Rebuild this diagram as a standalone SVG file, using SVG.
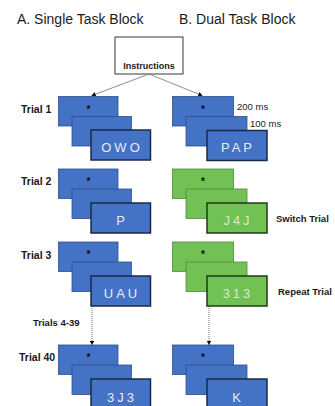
<svg xmlns="http://www.w3.org/2000/svg" width="335" height="406" viewBox="0 0 335 406">
<defs>
<style>
.title{font-family:"Liberation Sans",Arial,sans-serif;font-size:14px;fill:#1a1a1a}
.lbl{font-family:"Liberation Sans",Arial,sans-serif;font-size:10.5px;font-weight:bold;fill:#1a1a1a}
.lbl2{font-family:"Liberation Sans",Arial,sans-serif;font-size:9.5px;font-weight:bold;fill:#1a1a1a}
.ms{font-family:"Liberation Sans",Arial,sans-serif;font-size:9.5px;fill:#1a1a1a}
.b{fill:#4472C4;stroke:#2F4F8A;stroke-width:0.8}
.bf{fill:#4472C4;stroke:#1B2A47;stroke-width:1.5}
.g{fill:#72C154;stroke:#4F8A3A;stroke-width:0.8}
.gf{fill:#72C154;stroke:#22381A;stroke-width:1.5}
.star{font-family:"Liberation Sans",Arial,sans-serif;font-size:10px;font-weight:bold;fill:#111;text-anchor:middle}
.ft{font-family:"Liberation Sans",Arial,sans-serif;font-size:13px;fill:#E6ECF7;text-anchor:middle;letter-spacing:3px}
.gt{font-family:"Liberation Sans",Arial,sans-serif;font-size:13px;fill:#D5EBCB;text-anchor:middle;letter-spacing:3px}
.con{stroke:#8A7F76;stroke-width:0.9;fill:none}
.dot{stroke:#555;stroke-width:0.9;fill:none;stroke-dasharray:1 1}
</style>
<marker id="ah" viewBox="0 0 6 6" refX="5" refY="3" markerWidth="5" markerHeight="5" orient="auto"><path d="M0,0 L6,3 L0,6 z" fill="#111"/></marker>
</defs>
<rect width="335" height="406" fill="#fff"/>
<text class="title" x="17" y="24">A. Single Task Block</text>
<text class="title" x="179" y="24">B. Dual Task Block</text>

<g id="instructions">
<rect x="115" y="37" width="68" height="37" fill="#fff" stroke="#222" stroke-width="0.9"/>
<text x="149" y="68.5" text-anchor="middle" style="font-family:'Liberation Sans',Arial,sans-serif;font-size:9px;font-weight:bold;fill:#1a1a1a">Instructions</text>
</g>

<g id="connectors">
<line class="con" x1="149" y1="74" x2="92" y2="95.5" marker-end="url(#ah)"/>
<line class="con" x1="149" y1="74" x2="202" y2="95.5" marker-end="url(#ah)"/>
<line class="dot" x1="92" y1="306" x2="92" y2="344.5" marker-end="url(#ah)"/>
<line class="dot" x1="209" y1="306" x2="209" y2="344.5" marker-end="url(#ah)"/>
</g>

<g id="labels">
<text class="lbl" x="21" y="113">Trial 1</text>
<text class="lbl" x="21" y="185">Trial 2</text>
<text class="lbl" x="21" y="259">Trial 3</text>
<text class="lbl2" x="33" y="326">Trials 4-39</text>
<text class="lbl" x="19" y="361">Trial 40</text>
<text class="ms" x="237" y="110">200 ms</text>
<text class="ms" x="250" y="127">100 ms</text>
<text class="lbl2" x="276" y="222">Switch Trial</text>
<text class="lbl2" x="278" y="295">Repeat Trial</text>
</g>

<g id="single-trial1" transform="translate(0,96.5)">
<rect class="b" x="58.5" y="0" width="59.5" height="29.5"/>
<text class="star" x="88.5" y="16">*</text>
<rect class="b" x="72" y="20" width="59.5" height="29.5"/>
<rect class="bf" x="91" y="33.5" width="59.5" height="30"/>
<text class="ft" x="122" y="55">OWO</text>
</g>
<g id="single-trial2" transform="translate(0,169)">
<rect class="b" x="58.5" y="0" width="59.5" height="29.5"/>
<text class="star" x="88.5" y="16">*</text>
<rect class="b" x="72" y="20" width="59.5" height="29.5"/>
<rect class="bf" x="91" y="34" width="59.5" height="30"/>
<text class="ft" x="122" y="55.5">P</text>
</g>
<g id="single-trial3" transform="translate(0,242)">
<rect class="b" x="58.5" y="0" width="59.5" height="29.5"/>
<text class="star" x="88.5" y="16">*</text>
<rect class="b" x="72" y="20" width="59.5" height="29.5"/>
<rect class="bf" x="91" y="34" width="59.5" height="30"/>
<text class="ft" x="122" y="55.5">UAU</text>
</g>
<g id="single-trial40" transform="translate(0,345)">
<rect class="b" x="58.5" y="0" width="59.5" height="29.5"/>
<text class="star" x="88.5" y="16">*</text>
<rect class="b" x="72" y="20" width="59.5" height="29.5"/>
<rect class="bf" x="91" y="34" width="59.5" height="30"/>
<text class="ft" x="122" y="56.5">3J3</text>
</g>

<g id="dual-trial1" transform="translate(0,96.5)">
<rect class="b" x="172.5" y="0" width="61" height="29.5"/>
<text class="star" x="203" y="16">*</text>
<rect class="b" x="186" y="20" width="61" height="29.5"/>
<rect class="bf" x="207" y="34" width="60" height="30"/>
<text class="ft" x="238" y="55.5">PAP</text>
</g>
<g id="dual-trial2" transform="translate(0,169)">
<rect class="g" x="172.5" y="0" width="61" height="29.5"/>
<text class="star" x="203" y="16">*</text>
<rect class="g" x="186" y="20" width="61" height="29.5"/>
<rect class="gf" x="207" y="34" width="60" height="30"/>
<text class="gt" x="238" y="55.5">J4J</text>
</g>
<g id="dual-trial3" transform="translate(0,242)">
<rect class="g" x="172.5" y="0" width="61" height="29.5"/>
<text class="star" x="203" y="16">*</text>
<rect class="g" x="186" y="20" width="61" height="29.5"/>
<rect class="gf" x="207" y="34" width="60" height="30"/>
<text class="gt" x="238" y="55.5">313</text>
</g>
<g id="dual-trial40" transform="translate(0,345)">
<rect class="b" x="172.5" y="0" width="61" height="29.5"/>
<text class="star" x="203" y="16">*</text>
<rect class="b" x="186" y="20" width="61" height="29.5"/>
<rect class="bf" x="207" y="34" width="60" height="30"/>
<text class="ft" x="238" y="56.5">K</text>
</g>
</svg>
